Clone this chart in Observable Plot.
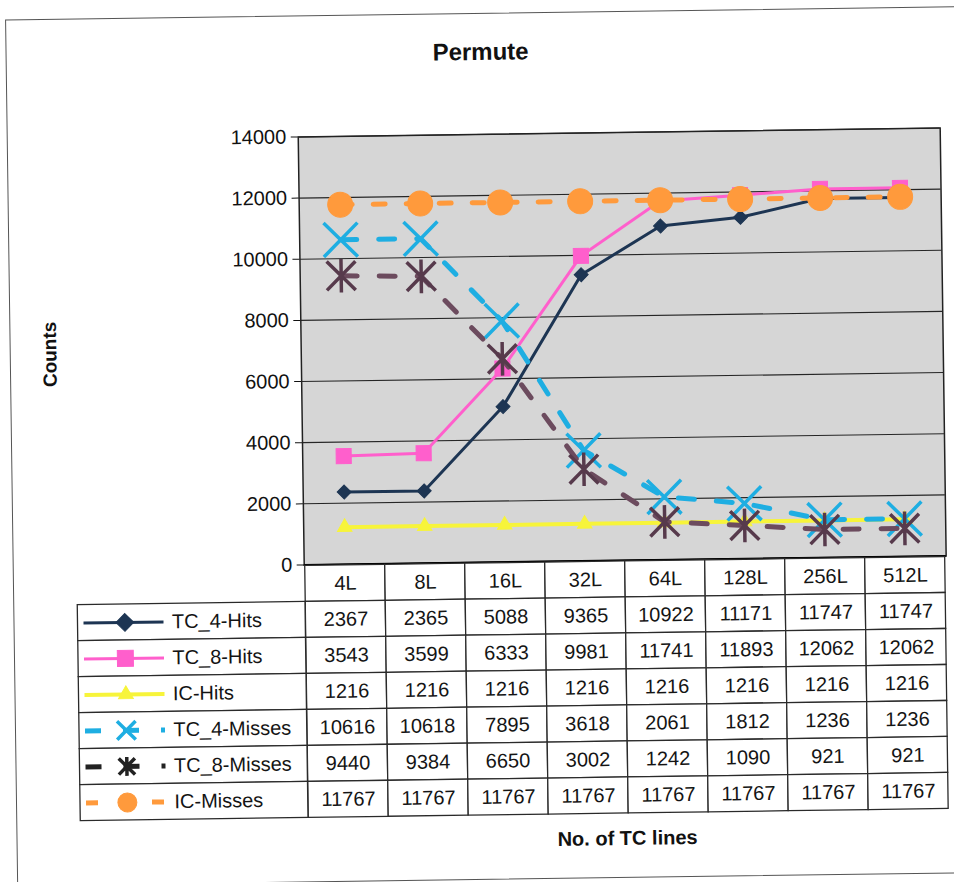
<!DOCTYPE html>
<html><head><meta charset="utf-8">
<script src="https://cdn.jsdelivr.net/npm/d3@7"></script>
<script src="https://cdn.jsdelivr.net/npm/@observablehq/plot@0.6"></script>
<style>
html,body{margin:0;padding:0;background:#fff;}
#page{position:relative;width:954px;height:882px;overflow:hidden;font-family:"Liberation Sans",Arial,sans-serif;color:#111;}
#sheet{position:absolute;left:0;top:0;width:954px;height:882px;transform:rotate(-0.8deg);transform-origin:477px 441px;}
#border{position:absolute;left:11px;top:13px;width:1000px;height:867px;border:1.5px solid #555;box-sizing:border-box;}
#title{position:absolute;left:0;width:972px;top:37px;line-height:30px;text-align:center;font-weight:bold;font-size:24px;}
#chart{position:absolute;left:0;top:0;}
#table{position:absolute;left:0;top:561px;}
#xtitle{position:absolute;left:422px;width:400px;top:827px;line-height:26px;text-align:center;font-weight:bold;font-size:20px;}
svg{overflow:visible;}
</style></head><body>
<div id="page"><div id="sheet">
<div id="border"></div>
<div id="title">Permute</div>
<div id="chart"></div>
<div id="table"></div>
<div id="xtitle">No. of TC lines</div>
</div></div>
<script>
// ---- data ----
const categories = ["4L","8L","16L","32L","64L","128L","256L","512L"];
const seriesNames = ["TC_4-Hits","TC_8-Hits","IC-Hits","TC_4-Misses","TC_8-Misses","IC-Misses"];
const tc4Hits   = [2367, 2365, 5088, 9365, 10922, 11171, 11747, 11747];
const tc8Hits   = [3543, 3599, 6333, 9981, 11741, 11893, 12062, 12062];
const icHits    = [1216, 1216, 1216, 1216, 1216, 1216, 1216, 1216];
const tc4Misses = [10616, 10618, 7895, 3618, 2061, 1812, 1236, 1236];
const tc8Misses = [9440, 9384, 6650, 3002, 1242, 1090, 921, 921];
const icMisses  = [11767, 11767, 11767, 11767, 11767, 11767, 11767, 11767];
const yTicks = [0, 2000, 4000, 6000, 8000, 10000, 12000, 14000];
const seriesValues = [tc4Hits, tc8Hits, icHits, tc4Misses, tc8Misses, icMisses];

// ---- styles ----
const excelStar = {
  draw(ctx, size) {
    const R = Math.sqrt(size / Math.PI);
    const a = R * 0.9, v = R * 1.05;
    ctx.moveTo(-a, -a); ctx.lineTo(a, a);
    ctx.moveTo(-a, a); ctx.lineTo(a, -a);
    ctx.moveTo(0, -v); ctx.lineTo(0, v);
  }
};
const styles = [
  {line:"#1d3553", mark:"#1d3553", legend:"#1d3553", w:3, dash:null, symbol:"diamond2", r:6.3, lr:8, filled:true},
  {line:"#ff5fcc", mark:"#ff5fcc", legend:"#ff5fcc", w:3, dash:null, symbol:"square", r:8.5, lr:9, filled:true},
  {line:"#f7f43a", mark:"#f7f43a", legend:"#f7f43a", w:4, dash:null, symbol:"triangle", r:5.4, lr:5.5, filled:true},
  {line:"#1eaee2", mark:"#1eaee2", legend:"#1eaee2", w:5, dash:"16,22", symbol:"times", r:15.5, lr:8.5, filled:false},
  {line:"#6c4b5e", mark:"#573a4c", legend:"#222222", w:5, dash:"16,22", symbol:excelStar, r:16, lr:9, filled:false},
  {line:"#ff9a3c", mark:"#ff9a3c", legend:"#ff9a3c", w:5, dash:"12,21", symbol:"circle", r:12.5, lr:9.5, filled:true}
];

const W = 954, ML = 302, MR = 10;
const bw = (W - ML - MR) / categories.length;

// ---- main chart ----
const seriesMarks = [];
seriesNames.forEach((name, k) => {
  const st = styles[k];
  const pts = categories.map((c, i) => ({c, v: seriesValues[k][i]}));
  seriesMarks.push(Plot.line(pts, {x:"c", y:"v", stroke:st.line, strokeWidth:st.w, strokeDasharray:st.dash || undefined}));
  seriesMarks.push(Plot.dot(pts, st.filled
    ? {x:"c", y:"v", symbol:st.symbol, r:st.r, fill:st.mark, stroke:st.mark, strokeWidth:1}
    : {x:"c", y:"v", symbol:st.symbol, r:st.r, fill:"none", stroke:st.mark, strokeWidth:3.5}));
});

const chart = Plot.plot({
  width: W, height: 564,
  marginTop: 134, marginBottom: 2, marginLeft: ML, marginRight: MR,
  style: {fontFamily: '"Liberation Sans", Arial, sans-serif', fontSize: "20px", background: "transparent", color: "#111", overflow: "visible"},
  x: {type: "band", domain: categories, padding: 0, axis: null},
  y: {domain: [0, 14000], ticks: yTicks, tickSize: 7, tickPadding: 5, tickFormat: d => String(d), label: null},
  marks: [
    Plot.frame({fill: "#d6d6d6"}),
    Plot.ruleY(yTicks, {stroke: "#262626", strokeWidth: 1.1}),
    Plot.frame({stroke: "#222", strokeWidth: 1.5}),
    Plot.ruleY([0], {stroke: "#000", strokeWidth: 2}),
    ...seriesMarks,
    Plot.text(["Counts"], {frameAnchor: "left", textAnchor: "middle", dx: -251, rotate: -90, fontWeight: "bold", fontSize: 19, fill: "#111"})
  ]
});
document.getElementById("chart").appendChild(chart);

// ---- data table ----
const cellsData = [];
categories.forEach(c => cellsData.push({row: "hdr", c, label: c}));
seriesNames.forEach((s, k) => categories.forEach((c, i) => cellsData.push({row: s, c, label: String(seriesValues[k][i])})));
const first = () => categories[0];
const legendMarks = [];
seriesNames.forEach((s, k) => {
  const st = styles[k];
  legendMarks.push(Plot.tickY([s], {x: first, y: d => d, stroke: st.legend, strokeWidth: st.w, strokeDasharray: st.dash || undefined, dx: 80 - ML}));
  legendMarks.push(Plot.dot([s], st.filled
    ? {x: first, y: d => d, symbol: st.symbol, r: st.lr, fill: st.legend, stroke: st.legend, strokeWidth: 1, dx: 121 - ML - bw / 2}
    : {x: first, y: d => d, symbol: st.symbol, r: st.lr, fill: "none", stroke: st.legend, strokeWidth: 3.5, dx: 121 - ML - bw / 2}));
  legendMarks.push(Plot.text([s], {x: first, y: d => d, text: d => d, textAnchor: "start", fontSize: 20, fill: "#141414", dx: 168 - ML - bw / 2}));
});

const table = Plot.plot({
  width: W, height: 258,
  marginTop: 1, marginBottom: 3, marginLeft: ML, marginRight: MR,
  style: {fontFamily: '"Liberation Sans", Arial, sans-serif', fontSize: "20px", background: "transparent", overflow: "visible"},
  x: {type: "band", domain: categories, padding: 0, axis: null},
  y: {type: "band", domain: ["hdr", ...seriesNames], padding: 0, axis: null},
  marks: [
    Plot.cell(cellsData, {x: "c", y: "row", fill: "white", stroke: "#2a2a2a", strokeWidth: 1.3}),
    Plot.cell(seriesNames, {x: first, y: d => d, fill: "white", stroke: "#2a2a2a", strokeWidth: 1.3, insetLeft: -(ML - 74), insetRight: bw}),
    Plot.text(cellsData, {x: "c", y: "row", text: "label", fontSize: 20, fill: "#141414"}),
    ...legendMarks
  ]
});
document.getElementById("table").appendChild(table);
</script>
</body></html>
